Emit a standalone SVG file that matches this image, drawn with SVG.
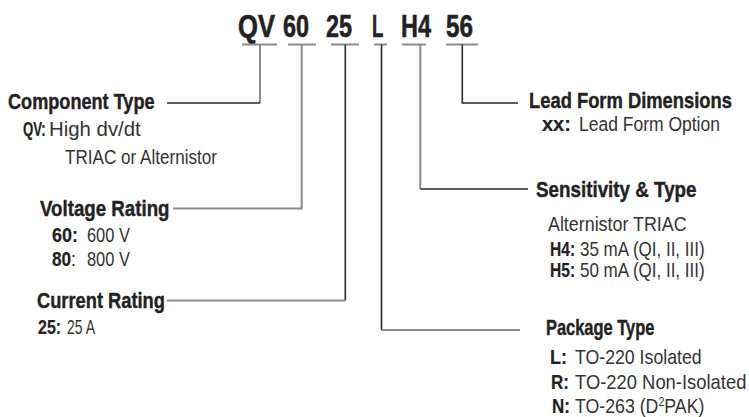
<svg xmlns="http://www.w3.org/2000/svg" width="749" height="417" viewBox="0 0 749 417">
<style>
text{font-family:"Liberation Sans",Arial,sans-serif;}
.code{font-size:31px;font-weight:bold;fill:#222;stroke:#222;stroke-width:0.6;}
.h{font-size:22px;font-weight:bold;fill:#222;stroke:#222;stroke-width:0.4;}
.k{font-size:20px;font-weight:bold;fill:#222;stroke:#222;stroke-width:0.2;}
.v{font-size:20px;fill:#333;}
.n{font-weight:normal;stroke:none;}
.lg{stroke:#8c8c8c;stroke-width:2;fill:none;}
.ld{stroke:#2a2a2a;stroke-width:1.6;fill:none;}
</style>
<rect width="749" height="417" fill="#fff"/>
<g id="code">
<text class="code" transform="translate(238 37) scale(0.826 1)">QV</text>
<text class="code" transform="translate(283 37) scale(0.754 1)">60</text>
<text class="code" transform="translate(326 37) scale(0.754 1)">25</text>
<text class="code" transform="translate(372 37) scale(0.6 1)">L</text>
<text class="code" transform="translate(401 37) scale(0.757 1)">H4</text>
<text class="code" transform="translate(446 37) scale(0.78 1)">56</text>
</g>
<g id="connectors">
<path class="lg" d="M242 44.5H277M288 44.5H316M331 44.5H359M374 44.5H387M402 44.5H426M446 44.5H478"/>
<path class="lg" d="M260 44.5V103"/>
<path class="ld" d="M260 103H167"/>
<path class="lg" d="M301.7 44.5V208.5H173"/>
<path class="ld" d="M345.3 44.5V300.5"/>
<path class="lg" d="M345.3 300.5H167"/>
<path class="ld" d="M381.5 44.5V330"/>
<path class="lg" d="M381.5 330H520"/>
<path class="lg" d="M420.3 44.5V189"/>
<path class="ld" d="M420.3 189H528"/>
<path class="ld" d="M462.3 44.5V103H518"/>
</g>
<g id="component-type">
<text class="h" transform="translate(8 109) scale(0.824 1)">Component Type</text>
<text class="k" transform="translate(23 136) scale(0.66 1)">QV:</text>
<text class="v" transform="translate(49 136) scale(1.02 1)">High dv/dt</text>
<text class="v" transform="translate(65 164) scale(0.855 1)">TRIAC or Alternistor</text>
</g>
<g id="voltage-rating">
<text class="h" transform="translate(40 216) scale(0.851 1)">Voltage Rating</text>
<text class="k" transform="translate(52 242) scale(0.9 1)">60:</text>
<text class="v" transform="translate(87 242) scale(0.82 1)">600 V</text>
<text class="k" transform="translate(52 266) scale(0.86 1)">80<tspan class="n">:</tspan></text>
<text class="v" transform="translate(87 266) scale(0.82 1)">800 V</text>
</g>
<g id="current-rating">
<text class="h" transform="translate(37 308) scale(0.831 1)">Current Rating</text>
<text class="k" transform="translate(38 334) scale(0.8 1)">25:</text>
<text class="v" transform="translate(67 334) scale(0.7 1)">25 A</text>
</g>
<g id="lead-form">
<text class="h" transform="translate(529 108) scale(0.835 1)">Lead Form Dimensions</text>
<text class="k" transform="translate(542 131) scale(1 1)">xx:</text>
<text class="v" transform="translate(579 131) scale(0.875 1)">Lead Form Option</text>
</g>
<g id="sensitivity">
<text class="h" transform="translate(536 197) scale(0.855 1)">Sensitivity &amp; Type</text>
<text class="v" transform="translate(548 231) scale(0.893 1)">Alternistor TRIAC</text>
<text class="k" transform="translate(550 256) scale(0.78 1)">H4:</text>
<text class="v" transform="translate(580 256) scale(0.85 1)">35 mA (QI, II, III)</text>
<text class="k" transform="translate(550 277) scale(0.78 1)">H5:</text>
<text class="v" transform="translate(580 277) scale(0.85 1)">50 mA (QI, II, III)</text>
</g>
<g id="package-type">
<text class="h" transform="translate(546 335) scale(0.747 1)">Package Type</text>
<text class="k" transform="translate(550 364) scale(0.9 1)">L:</text>
<text class="v" transform="translate(575 364) scale(0.886 1)">TO-220 Isolated</text>
<text class="k" transform="translate(551 389) scale(0.85 1)">R:</text>
<text class="v" transform="translate(575 389) scale(0.92 1)">TO-220 Non-Isolated</text>
<text class="k" transform="translate(552 413) scale(0.85 1)">N:</text>
<text class="v" transform="translate(575 413) scale(0.887 1)">TO-263 (D<tspan font-size="12" dy="-7">2</tspan><tspan dy="7">PAK)</tspan></text>
</g>
</svg>
